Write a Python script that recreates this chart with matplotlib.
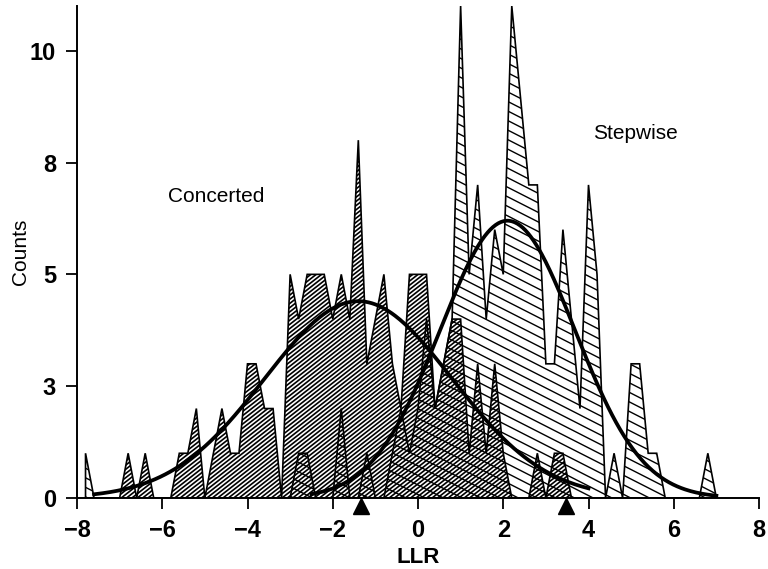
import numpy as np
import matplotlib.pyplot as plt
from matplotlib.patches import Polygon
from matplotlib.collections import LineCollection

plt.rcParams['font.family'] = ['Liberation Sans', 'DejaVu Sans']

# frequency polygons, bins of 0.2 LLR
bin_width = 0.2

concerted_start = -7.0
concerted_counts = [0, 1, 0, 1, 0, 0, 0, 1, 1, 2,      # -7.0 .. -5.2
                    0, 1, 2, 1, 1, 3, 3, 2, 2, 0,      # -5.0 .. -3.2
                    5, 4, 5, 5, 5, 4, 5, 4, 8, 3,      # -3.0 .. -1.2
                    4, 5, 3, 2, 5, 5, 5, 2, 3, 4,      # -1.0 .. 0.8
                    4, 1, 3, 1, 3, 1, 0, 0, 0, 1,      # 1.0 .. 2.8
                    0, 1, 1, 0]                        # 3.0 .. 3.6

stepwise_start = -7.8
stepwise_counts = [1, 0, 0, 0, 0, 0, 0, 0, 0, 0,       # -7.8 .. -6.0
                   0, 0, 0, 0, 0, 0, 0, 0, 0, 0,       # -5.8 .. -4.0
                   0, 0, 0, 0, 0, 1, 1, 0, 0, 0,       # -3.8 .. -2.0
                   2, 0, 0, 1, 0, 0, 1, 2, 1, 2,       # -1.8 .. 0.0
                   4, 2, 3, 4, 11, 5, 7, 4, 6, 5,      # 0.2 .. 2.0
                   11, 9, 7, 7, 3, 3, 6, 4, 2, 7,      # 2.2 .. 4.0
                   5, 0, 1, 0, 3, 3, 1, 1, 0, 0,       # 4.2 .. 6.0
                   0, 0, 0, 1, 0]                      # 6.2 .. 7.0

# fitted normal curves: peak height, mean, sd, drawn range
concerted_fit = (4.4, -1.4, 2.2, -7.6, 4.0)
stepwise_fit = (6.2, 2.1, 1.58, -2.5, 7.0)

arrow_llr = [-1.33, 3.48]

x_ticks = [-8, -6, -4, -2, 0, 2, 4, 6, 8]
x_tick_labels = ['\u22128', '\u22126', '\u22124', '\u22122', '0', '2', '4', '6', '8']
y_ticks = [0, 2.5, 5, 7.5, 10]
y_tick_labels = ['0', '3', '5', '8', '10']

tick_font = ['Liberation Sans Narrow', 'Liberation Sans']


def freq_polygon(start, counts):
    x = start + bin_width * np.arange(len(counts))
    xs = np.concatenate([[x[0]], x, [x[-1]]])
    ys = np.concatenate([[0], counts, [0]])
    return np.column_stack([xs, ys])


def hatch_patch(ax, patch, slope_deg, gap_px, lw):
    bbox = ax.get_window_extent()
    W, H = bbox.width, bbox.height
    t = np.tan(np.radians(slope_deg))
    step = gap_px / np.cos(np.radians(slope_deg))
    cs = np.arange(-abs(t) * W - step, H + abs(t) * W + step, step)
    segs = [[(0, c / H), (1, (c + t * W) / H)] for c in cs]
    lc = LineCollection(segs, colors='black', linewidths=lw, transform=ax.transAxes)
    lc.set_clip_path(patch)
    ax.add_collection(lc, autolim=False)


def normal_curve(fit):
    a, mu, sd, x0, x1 = fit
    x = np.linspace(x0, x1, 300)
    return x, a * np.exp(-(x - mu) ** 2 / (2 * sd ** 2))


fig = plt.figure(figsize=(7.68, 5.69), dpi=100)
ax = fig.add_axes([77 / 768, 71 / 569, 682 / 768, 492 / 569])
ax.set_xlim(-8, 8)
ax.set_ylim(0, 11.0)

step_poly = Polygon(freq_polygon(stepwise_start, stepwise_counts), closed=True,
                    fill=False, edgecolor='black', linewidth=1.2, zorder=2)
conc_poly = Polygon(freq_polygon(concerted_start, concerted_counts), closed=True,
                    fill=False, edgecolor='black', linewidth=1.2, zorder=3)
ax.add_patch(step_poly)
ax.add_patch(conc_poly)
hatch_patch(ax, step_poly, -27, 8.5, 1.0)
hatch_patch(ax, conc_poly, 38, 3.3, 1.2)

for fit in (concerted_fit, stepwise_fit):
    x, y = normal_curve(fit)
    ax.plot(x, y, color='black', linewidth=2.7, zorder=5)

ax.plot(arrow_llr, [-0.17] * len(arrow_llr), linestyle='none', marker='^',
        markersize=12, color='black', clip_on=False, zorder=6)

ax.text(-4.73, 6.73, 'Concerted', fontsize=15, ha='center', va='center')
ax.text(5.1, 8.15, 'Stepwise', fontsize=15, ha='center', va='center')

ax.set_xticks(x_ticks)
ax.set_xticklabels(x_tick_labels, family=tick_font, fontsize=17, fontweight='bold')
ax.set_yticks(y_ticks)
ax.set_yticklabels(y_tick_labels, family=tick_font, fontsize=17, fontweight='bold')
ax.tick_params(direction='out', length=8, width=1.3, pad=7)
ax.spines['top'].set_visible(False)
ax.spines['right'].set_visible(False)
ax.spines['left'].set_linewidth(1.4)
ax.spines['bottom'].set_linewidth(1.4)
ax.set_xlabel('LLR', fontsize=16, family=tick_font, fontweight='bold', labelpad=4)
ax.set_ylabel('Counts', fontsize=15, labelpad=0)

fig.savefig('out.png', dpi=100)
